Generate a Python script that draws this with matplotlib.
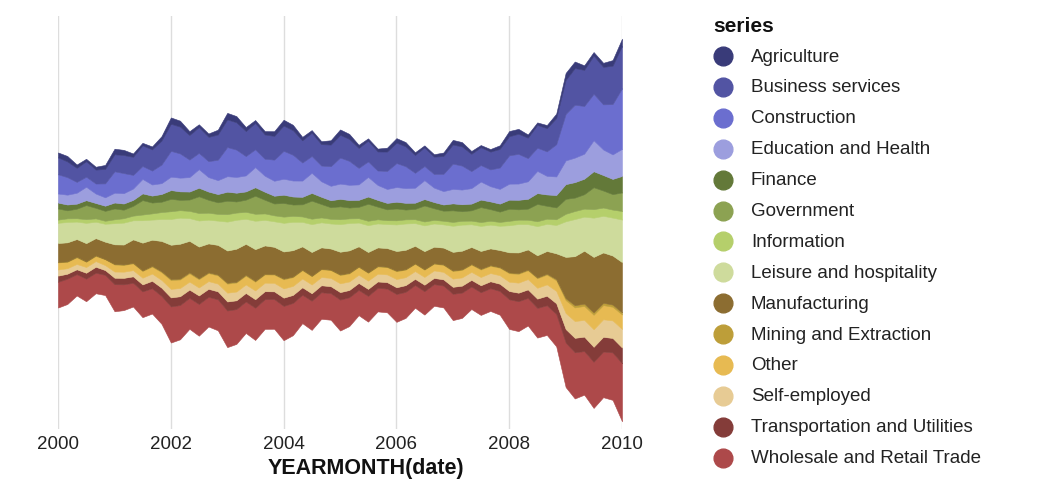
import matplotlib
matplotlib.use("Agg")
import matplotlib.pyplot as plt
from matplotlib.lines import Line2D
import numpy as np
import pandas as pd

# ---- data (thousands unemployed), sampled every two months: Jan, Mar, May, Jul, Sep, Nov ----
dates = pd.date_range("2000-01-01", "2010-01-01", freq="2MS")

series_names = [
    "Agriculture", "Business services", "Construction", "Education and Health",
    "Finance", "Government", "Information", "Leisure and hospitality",
    "Manufacturing", "Mining and Extraction", "Other", "Self-employed",
    "Transportation and Utilities", "Wholesale and Retail Trade",
]

agriculture = [
    192, 210, 130, 95, 110, 155,
    215, 200, 130, 100, 115, 170,
    245, 230, 150, 110, 130, 185,
    255, 240, 155, 115, 130, 180,
    225, 210, 135, 105, 115, 165,
    210, 195, 125, 95, 110, 150,
    175, 165, 105, 80, 95, 135,
    180, 170, 110, 85, 100, 140,
    200, 190, 125, 100, 120, 175,
    270, 255, 175, 140, 160, 215,
    280]
business_services = [
    655, 610, 545, 600, 540, 560,
    660, 700, 700, 800, 820, 930,
    1050, 1040, 950, 1000, 940, 980,
    1070, 1060, 970, 1020, 940, 920,
    980, 950, 860, 900, 830, 840,
    880, 850, 770, 800, 740, 750,
    790, 770, 690, 720, 670, 690,
    740, 740, 670, 690, 690, 720,
    740, 780, 790, 880, 900, 1010,
    1320, 1420, 1400, 1480, 1450, 1490,
    1640]
construction = [
    745, 680, 420, 390, 390, 540,
    830, 780, 530, 500, 540, 720,
    1000, 940, 680, 630, 620, 790,
    1130, 1060, 750, 690, 660, 820,
    1080, 1000, 700, 650, 610, 760,
    1010, 930, 640, 600, 560, 700,
    930, 850, 580, 550, 530, 670,
    980, 930, 660, 640, 650, 830,
    1100, 1150, 900, 900, 950, 1250,
    1800, 2050, 1850, 1800, 1750, 1950,
    2350]
education_health = [
    353, 381, 423, 520, 366, 325,
    380, 400, 440, 560, 430, 420,
    520, 530, 560, 720, 560, 540,
    600, 610, 620, 780, 620, 580,
    620, 620, 630, 780, 600, 560,
    590, 590, 600, 760, 580, 540,
    570, 570, 580, 730, 560, 520,
    560, 570, 600, 700, 590, 570,
    620, 630, 680, 860, 720, 720,
    920, 950, 970, 1200, 990, 950,
    1050]
finance = [
    228, 226, 195, 190, 187, 200,
    230, 240, 230, 260, 270, 300,
    340, 330, 310, 330, 320, 320,
    350, 340, 320, 330, 310, 300,
    320, 310, 290, 300, 280, 270,
    290, 290, 270, 280, 260, 250,
    260, 260, 240, 250, 240, 240,
    270, 270, 260, 290, 300, 310,
    350, 370, 380, 420, 440, 480,
    570, 600, 600, 620, 600, 590,
    640]
government = [
    430, 311, 370, 545, 408, 384,
    420, 330, 380, 560, 420, 400,
    480, 400, 440, 650, 500, 450,
    520, 430, 470, 700, 530, 460,
    530, 440, 470, 700, 520, 450,
    500, 420, 440, 660, 490, 420,
    460, 380, 400, 620, 450, 390,
    450, 370, 400, 580, 450, 400,
    470, 400, 430, 670, 500, 460,
    580, 520, 560, 850, 660, 600,
    720]
information = [
    125, 140, 131, 144, 130, 117,
    150, 170, 180, 220, 240, 270,
    300, 290, 280, 290, 270, 260,
    290, 280, 270, 270, 250, 230,
    240, 230, 210, 210, 190, 180,
    190, 180, 170, 170, 160, 150,
    160, 160, 150, 150, 140, 140,
    150, 150, 140, 150, 150, 150,
    170, 170, 170, 190, 200, 220,
    290, 310, 310, 330, 320, 310,
    330]
leisure_hospitality = [
    782, 789, 675, 786, 636, 694,
    820, 850, 740, 870, 780, 850,
    1000, 1010, 880, 1010, 920, 940,
    1120, 1120, 970, 1100, 990, 990,
    1110, 1100, 950, 1080, 970, 970,
    1070, 1060, 920, 1040, 930, 930,
    1030, 1020, 880, 1000, 900, 900,
    1010, 1010, 880, 970, 920, 940,
    1050, 1100, 980, 1130, 1050, 1100,
    1380, 1440, 1320, 1520, 1420, 1470,
    1650]
manufacturing = [
    734, 739, 685, 708, 667, 672,
    763, 772, 907, 1076, 1012, 1175,
    1330, 1350, 1220, 1230, 1120, 1150,
    1250, 1280, 1200, 1230, 1100, 1050,
    1050, 1020, 900, 920, 830, 820,
    880, 870, 780, 790, 720, 720,
    760, 750, 680, 700, 640, 650,
    720, 720, 660, 690, 650, 660,
    780, 800, 780, 860, 880, 1000,
    1600, 1900, 2050, 2150, 1950, 1900,
    1950]
mining_extraction = [
    19, 17, 27, 16, 25, 11,
    22, 20, 25, 22, 30, 35,
    40, 35, 40, 35, 30, 30,
    35, 30, 35, 30, 25, 25,
    30, 25, 25, 20, 20, 20,
    25, 25, 20, 20, 20, 20,
    25, 20, 20, 20, 20, 20,
    25, 25, 25, 30, 25, 25,
    30, 30, 30, 30, 35, 45,
    75, 85, 90, 95, 90, 85,
    80]
other = [
    274, 247, 254, 202, 198, 225,
    270, 260, 260, 260, 270, 300,
    340, 330, 320, 320, 310, 320,
    350, 350, 340, 340, 320, 320,
    350, 340, 320, 320, 300, 300,
    320, 310, 300, 300, 280, 280,
    300, 290, 280, 280, 260, 270,
    290, 290, 280, 290, 280, 290,
    330, 340, 340, 370, 380, 410,
    500, 530, 540, 560, 550, 530,
    560]
self_employed = [
    239, 213, 206, 222, 220, 192,
    240, 240, 240, 260, 280, 300,
    330, 320, 310, 310, 300, 300,
    340, 340, 330, 340, 330, 330,
    360, 350, 340, 340, 320, 320,
    340, 330, 320, 320, 300, 300,
    320, 310, 300, 300, 290, 290,
    320, 320, 310, 320, 320, 330,
    360, 390, 400, 420, 440, 480,
    620, 650, 650, 680, 680, 680,
    720]
transportation_utilities = [
    236, 192, 190, 228, 231, 186,
    250, 250, 250, 270, 290, 320,
    350, 340, 320, 330, 310, 310,
    350, 340, 330, 330, 310, 300,
    320, 310, 290, 290, 270, 270,
    290, 280, 270, 270, 250, 250,
    260, 260, 240, 250, 240, 240,
    270, 270, 260, 270, 270, 280,
    320, 330, 330, 360, 370, 410,
    520, 560, 560, 580, 570, 560,
    610]
wholesale_retail = [
    1000, 983, 826, 875, 796, 782,
    1050, 1000, 920, 1000, 980, 1080,
    1400, 1330, 1200, 1230, 1150, 1200,
    1420, 1350, 1220, 1250, 1150, 1150,
    1330, 1250, 1100, 1130, 1030, 1030,
    1200, 1120, 980, 1000, 910, 920,
    1080, 1010, 880, 910, 840, 850,
    1020, 980, 870, 880, 880, 920,
    1150, 1160, 1070, 1150, 1150, 1260,
    1730, 1790, 1690, 1790, 1770, 1840,
    2250]

series_values = [
    agriculture, business_services, construction, education_health, finance,
    government, information, leisure_hospitality, manufacturing,
    mining_extraction, other, self_employed, transportation_utilities,
    wholesale_retail,
]

colors = [
    "#393b79", "#5254a3", "#6b6ecf", "#9c9ede", "#637939", "#8ca252",
    "#b5cf6b", "#cedb9c", "#8c6d31", "#bd9e39", "#e7ba52", "#e7cb94",
    "#843c39", "#ad494a",
]

tick_years = [2000, 2002, 2004, 2006, 2008, 2010]

# ---- figure ----
W, H = 1042, 485
fig = plt.figure(figsize=(W / 100, H / 100), dpi=100)
plt.rcParams["font.family"] = ["Liberation Sans", "DejaVu Sans"]

ax_left, ax_right, ax_top, ax_bottom = 58, 622, 17, 430
ax = fig.add_axes([ax_left / W, 1 - ax_bottom / H,
                   (ax_right - ax_left) / W, (ax_bottom - ax_top) / H])

vals = np.array(series_values, dtype=float)
total = vals.sum(axis=0)
base = -total / 2.0
# stack from the bottom: last legend entry is lowest
lower = base.copy()
layers = []
for i in range(len(series_names) - 1, -1, -1):
    upper = lower + vals[i]
    layers.append((i, lower.copy(), upper.copy()))
    lower = upper
for i, lo, up in layers:
    ax.fill_between(dates, lo, up, facecolor=colors[i], edgecolor=colors[i],
                    linewidth=0.4, zorder=2)

# scale: ~0.0258 px per unit, stream centre at pixel 231
s = 0.0258
ax.set_ylim(-(ax_bottom - 231) / s, (231 - ax_top) / s)
ax.set_xlim(dates[0], dates[-1])

ticks = [pd.Timestamp(f"{y}-01-01") for y in tick_years]
ax.set_xticks(ticks)
ax.set_xticklabels([str(y) for y in tick_years], fontsize=13.5, color="#222")
ax.tick_params(axis="x", length=0, pad=4)
ax.set_yticks([])
ax.grid(axis="x", color="#dddddd", linewidth=1.0, zorder=0)
ax.set_axisbelow(True)
for sp in ax.spines.values():
    sp.set_visible(False)


def fx(px):
    return px / W


def fy(py):
    return 1 - py / H


# axis title
fig.text(fx(366), fy(469), "YEARMONTH(date)", fontsize=15.5, fontweight="bold",
         ha="center", va="center", color="#111")

# ---- legend ----
fig.text(fx(713), fy(27), "series", fontsize=15, fontweight="bold",
         va="center", ha="left", color="#111")
for k, name in enumerate(series_names):
    yc = 57 + k * 30.9
    fig.add_artist(Line2D([fx(723)], [fy(yc)], marker="o", markersize=13.5,
                          markerfacecolor=colors[k], markeredgecolor=colors[k],
                          linestyle="none", transform=fig.transFigure))
    fig.text(fx(751), fy(yc), name, fontsize=13.5, va="center", ha="left",
             color="#222")

fig.savefig("out.png", dpi=100)
